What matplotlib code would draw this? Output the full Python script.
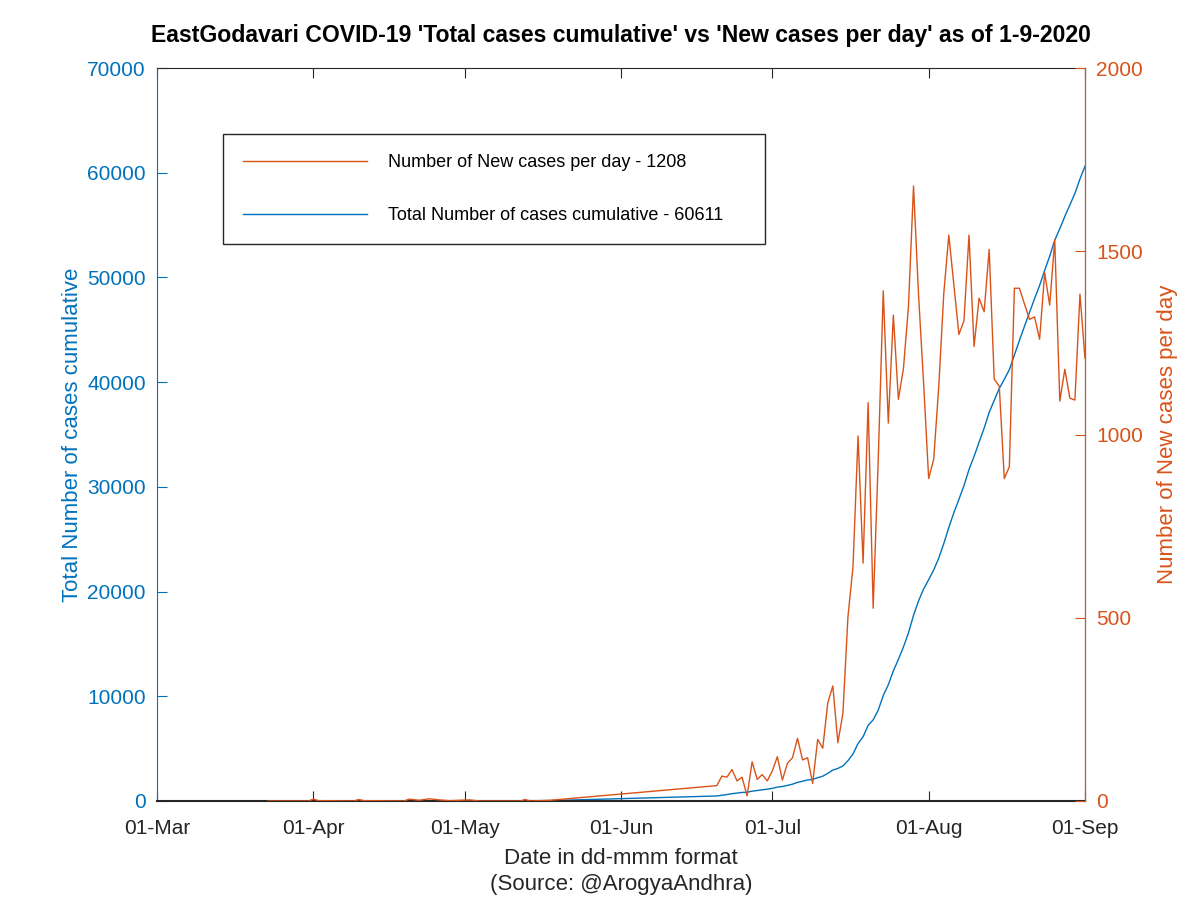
import numpy as np
import pandas as pd
import matplotlib
matplotlib.use("Agg")
import matplotlib.pyplot as plt
import matplotlib.dates as mdates

plt.rcParams['font.family'] = ['Liberation Sans', 'DejaVu Sans']

BLUE = "#0072BD"
ORANGE = "#D95319"

# early reports (sparse), then a gap, then daily from 20-Jun
early_dates = ["2020-03-23", "2020-03-31", "2020-04-01", "2020-04-02", "2020-04-09",
               "2020-04-10", "2020-04-11", "2020-04-19", "2020-04-20", "2020-04-22",
               "2020-04-24", "2020-04-26", "2020-04-28", "2020-05-02", "2020-05-04",
               "2020-05-12", "2020-05-13", "2020-05-14", "2020-05-18"]
early_new = [0, 0, 5, 1, 0, 4, 1, 0, 5, 2, 6, 3, 1, 3, 0, 0, 4, 0, 2]
early_total = [0, 0, 5, 6, 6, 10, 11, 11, 16, 18, 24, 27, 28, 31, 31, 31, 35, 35, 37]

daily_start = "2020-06-20"
daily_new = [42, 68, 65, 86, 55, 65, 14, 107, 59, 72, 55,
             82, 121, 57, 103, 118, 171, 112, 118, 48, 168, 144,
             268, 314, 159, 239, 503, 639, 996, 649, 1087, 526,
             930, 1392, 1031, 1326, 1096, 1180, 1350, 1678, 1380, 1140,
             880, 932, 1130, 1385, 1544, 1408, 1273, 1310, 1544, 1240,
             1372, 1335, 1505, 1151, 1132, 880, 912, 1399, 1399, 1356,
             1314, 1321, 1260, 1441, 1353, 1531, 1091, 1178, 1099, 1094, 1383,
             1208]
daily_total = [480, 548, 613, 699, 754, 819, 833, 940, 999, 1071, 1126,
               1208, 1329, 1386, 1489, 1607, 1778, 1890, 2008, 2056, 2224, 2368,
               2636, 2950, 3109, 3348, 3851, 4490, 5486, 6135, 7222, 7748,
               8678, 10070, 11101, 12427, 13523, 14703, 16053, 17731, 19111, 20251,
               21131, 22063, 23193, 24578, 26122, 27530, 28803, 30113, 31657, 32897,
               34269, 35604, 37109, 38260, 39392, 40272, 41184, 42583, 43982, 45338,
               46652, 47973, 49233, 50674, 52027, 53558, 54649, 55827, 56926, 58020, 59403,
               60611]

dates = list(pd.to_datetime(early_dates)) + list(pd.date_range(daily_start, periods=len(daily_new)))
new_cases = early_new + daily_new
total_cases = early_total + daily_total

tick_dates = pd.to_datetime(["2020-03-01", "2020-04-01", "2020-05-01", "2020-06-01",
                             "2020-07-01", "2020-08-01", "2020-09-01"])

fig = plt.figure(figsize=(12, 9), dpi=100)
ax = fig.add_axes([157 / 1200, 99 / 900, 928 / 1200, 733 / 900])
ax2 = ax.twinx()

l1, = ax.plot(dates, total_cases, color=BLUE, lw=1.0,
              label="Total Number of cases cumulative - 60611")
l2, = ax2.plot(dates, new_cases, color=ORANGE, lw=1.0,
               label="Number of New cases per day - 1208")

ax.set_xlim(tick_dates[0], tick_dates[-1])
ax.set_ylim(0, 70000)
ax2.set_ylim(0, 2000)
ax.set_yticks(np.arange(0, 70001, 10000))
ax2.set_yticks([0, 500, 1000, 1500, 2000])
ax.set_xticks(tick_dates)
ax.xaxis.set_major_formatter(mdates.DateFormatter("%d-%b"))

ax.tick_params(axis="x", direction="in", length=7, colors="#262626", labelsize=15, pad=13,
               top=True)
ax.tick_params(axis="y", direction="in", length=7, colors=BLUE, labelsize=15, pad=8)
ax2.tick_params(axis="y", direction="in", length=7, colors=ORANGE, labelsize=15, pad=8)

ax.spines["left"].set_color(BLUE)
ax.spines["bottom"].set_color("#262626")
ax.spines["bottom"].set_linewidth(1.5)
ax.spines["top"].set_color("#262626")
ax2.spines["right"].set_color(ORANGE)
ax2.spines["left"].set_visible(False)
ax2.spines["top"].set_visible(False)
ax2.spines["bottom"].set_visible(False)

ax.set_ylabel("Total Number of cases cumulative", color=BLUE, fontsize=16, labelpad=3)
ax2.set_ylabel("Number of New cases per day", color=ORANGE, fontsize=16, labelpad=10)
ax.set_xlabel("Date in dd-mmm format\n(Source: @ArogyaAndhra)", fontsize=16,
              color="#262626", labelpad=7, linespacing=1.35)
ax.set_title("EastGodavari COVID-19 'Total cases cumulative' vs 'New cases per day' as of 1-9-2020",
             fontsize=16.6, fontweight="bold", pad=19)

leg = ax2.legend(handles=[l2, l1], loc="upper left",
                 bbox_to_anchor=(66 / 928, 0, 542 / 928, 667 / 733), mode="expand",
                 fontsize=13, handlelength=6.9, handletextpad=1.15, labelspacing=2.0,
                 borderpad=1.1, fancybox=False, framealpha=1, edgecolor="#262626",
                 borderaxespad=0)
leg.get_frame().set_linewidth(1.0)

fig.savefig("out.png", dpi=100)
